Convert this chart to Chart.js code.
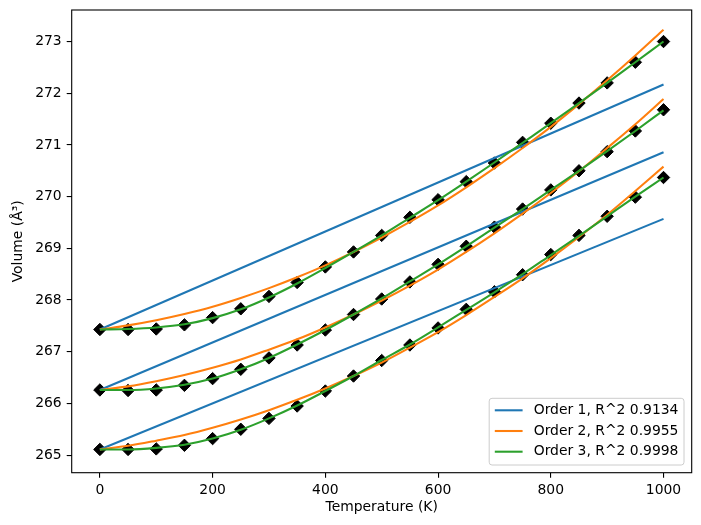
<!DOCTYPE html>
<html>
<head>
<meta charset="utf-8">
<script src="https://cdn.jsdelivr.net/npm/chart.js@4.4.1/dist/chart.umd.min.js"></script>
<style>
  html, body { margin: 0; padding: 0; background: #ffffff; }
  #c { display: block; }
</style>
</head>
<body>
<canvas id="c" width="701" height="525"></canvas>
<script>
// ---------------- data ----------------
const temps = [0, 50, 100, 150, 200, 250, 300, 350, 400, 450, 500, 550, 600, 650, 700, 750, 800, 850, 900, 950, 1000];

// measured volumes (black diamonds)
const volA = [267.43, 267.43, 267.44, 267.52, 267.66, 267.83, 268.07, 268.34, 268.64, 268.93, 269.25, 269.60, 269.94, 270.29, 270.65, 271.05, 271.42, 271.81, 272.20, 272.60, 273.00];
const volB = [266.26, 266.25, 266.26, 266.35, 266.48, 266.66, 266.88, 267.13, 267.42, 267.72, 268.02, 268.35, 268.69, 269.04, 269.41, 269.76, 270.13, 270.50, 270.87, 271.27, 271.68];
const volC = [265.11, 265.11, 265.12, 265.19, 265.32, 265.50, 265.71, 265.95, 266.24, 266.53, 266.83, 267.13, 267.46, 267.82, 268.16, 268.49, 268.88, 269.25, 269.62, 269.99, 270.37];

// order 1 fits (straight lines, endpoints)
const order1T = [0, 1000];
const order1A = [267.43, 272.17];
const order1B = [266.26, 270.86];
const order1C = [265.11, 269.57];

// order 2 fits
const order2A = [267.43, 267.51, 267.61, 267.73, 267.87, 268.04, 268.23, 268.44, 268.67, 268.93, 269.21, 269.51, 269.83, 270.18, 270.55, 270.94, 271.35, 271.79, 272.25, 272.73, 273.23];
const order2B = [266.26, 266.33, 266.43, 266.55, 266.69, 266.85, 267.04, 267.24, 267.47, 267.72, 267.99, 268.28, 268.59, 268.93, 269.29, 269.67, 270.07, 270.49, 270.94, 271.40, 271.89];
const order2C = [265.11, 265.18, 265.28, 265.39, 265.53, 265.69, 265.87, 266.07, 266.29, 266.53, 266.79, 267.08, 267.38, 267.71, 268.06, 268.42, 268.81, 269.22, 269.65, 270.11, 270.58];

// order 3 fits
const order3A = [267.43, 267.44, 267.47, 267.53, 267.65, 267.82, 268.05, 268.32, 268.62, 268.93, 269.25, 269.59, 269.93, 270.29, 270.66, 271.04, 271.42, 271.81, 272.20, 272.60, 273.00];
const order3B = [266.26, 266.26, 266.29, 266.36, 266.48, 266.66, 266.88, 267.14, 267.42, 267.72, 268.03, 268.36, 268.69, 269.04, 269.40, 269.76, 270.13, 270.50, 270.88, 271.27, 271.67];
const order3C = [265.11, 265.11, 265.14, 265.20, 265.32, 265.49, 265.71, 265.96, 266.24, 266.53, 266.84, 267.14, 267.47, 267.81, 268.15, 268.50, 268.87, 269.24, 269.62, 270.00, 270.37];

const legendLabels = ["Order 1, R^2 0.9134", "Order 2, R^2 0.9955", "Order 3, R^2 0.9998"];
const xTicks = [0, 200, 400, 600, 800, 1000];
const yTicks = [265, 266, 267, 268, 269, 270, 271, 272, 273];
const xTitle = "Temperature (K)";
const yTitle = "Volume (Å³)";

// ---------------- styling ----------------
const BLUE = '#1f77b4', ORANGE = '#ff7f0e', GREEN = '#2ca02c';
const FONT = 'DejaVu Sans';
const FS = 13.9;
const LW = 2.08;

const pts = (xs, ys) => xs.map((x, i) => ({ x: x, y: ys[i] }));

function markers(ys) {
  return {
    data: pts(temps, ys), showLine: false, pointStyle: 'rectRot',
    pointRadius: 6.2, pointHoverRadius: 6.2, borderWidth: 1,
    backgroundColor: '#000', borderColor: '#000', order: 4
  };
}
function fitLine(xs, ys, color, ord) {
  return {
    data: pts(xs, ys), showLine: true, pointRadius: 0, pointHoverRadius: 0,
    borderColor: color, backgroundColor: color, borderWidth: LW, fill: false,
    cubicInterpolationMode: 'monotone', order: ord
  };
}

const datasets = [
  markers(volA), markers(volB), markers(volC),
  fitLine(order1T, order1A, BLUE, 3), fitLine(order1T, order1B, BLUE, 3), fitLine(order1T, order1C, BLUE, 3),
  fitLine(temps, order2A, ORANGE, 2), fitLine(temps, order2B, ORANGE, 2), fitLine(temps, order2C, ORANGE, 2),
  fitLine(temps, order3A, GREEN, 1), fitLine(temps, order3B, GREEN, 1), fitLine(temps, order3C, GREEN, 1)
];

const frameAndLegend = {
  id: 'frameAndLegend',
  afterDatasetsDraw(chart) {
    const ctx = chart.ctx, ca = chart.chartArea;
    ctx.save();
    // spines
    ctx.strokeStyle = '#000';
    ctx.lineWidth = 1.1;
    ctx.strokeRect(ca.left, ca.top, ca.right - ca.left, ca.bottom - ca.top);

    // legend
    ctx.font = FS + 'px "' + FONT + '"';
    let tw = 0;
    legendLabels.forEach(t => { tw = Math.max(tw, ctx.measureText(t).width); });
    const pad = 5.6, handle = 27.8, hpad = 11.1, rowH = 20.7;
    const w = pad + handle + hpad + tw + pad;
    const h = 66.7;
    const x0 = ca.right - 7.7 - w;
    const y0 = ca.bottom - 7.7 - h;
    const r = 2.8;
    ctx.beginPath();
    ctx.moveTo(x0 + r, y0);
    ctx.lineTo(x0 + w - r, y0);
    ctx.arcTo(x0 + w, y0, x0 + w, y0 + r, r);
    ctx.lineTo(x0 + w, y0 + h - r);
    ctx.arcTo(x0 + w, y0 + h, x0 + w - r, y0 + h, r);
    ctx.lineTo(x0 + r, y0 + h);
    ctx.arcTo(x0, y0 + h, x0, y0 + h - r, r);
    ctx.lineTo(x0, y0 + r);
    ctx.arcTo(x0, y0, x0 + r, y0, r);
    ctx.closePath();
    ctx.fillStyle = 'rgba(255,255,255,0.8)';
    ctx.fill();
    ctx.strokeStyle = '#cccccc';
    ctx.lineWidth = 1;
    ctx.stroke();

    const colors = [BLUE, ORANGE, GREEN];
    legendLabels.forEach((t, i) => {
      const cy = y0 + 12 + i * rowH;
      ctx.strokeStyle = colors[i];
      ctx.lineWidth = LW;
      ctx.beginPath();
      ctx.moveTo(x0 + pad, cy);
      ctx.lineTo(x0 + pad + handle, cy);
      ctx.stroke();
      ctx.fillStyle = '#000';
      ctx.textAlign = 'left';
      ctx.textBaseline = 'middle';
      ctx.fillText(t, x0 + pad + handle + hpad, cy);
    });
    ctx.restore();
  }
};

function zeroPad(s) { s.paddingTop = 0; s.paddingBottom = 0; s.paddingLeft = 0; s.paddingRight = 0; }

new Chart(document.getElementById('c'), {
  type: 'scatter',
  data: { datasets: datasets },
  options: {
    responsive: false,
    devicePixelRatio: 1,
    animation: false,
    layout: { padding: { left: 0, top: 10, right: 9.3, bottom: 0 } },
    plugins: { legend: { display: false }, tooltip: { enabled: false } },
    scales: {
      x: {
        type: 'linear', min: -50, max: 1050,
        afterBuildTicks: s => { s.ticks = xTicks.map(v => ({ value: v })); },
        afterFit: s => { s.height = 52.3; zeroPad(s); },
        grid: { drawOnChartArea: false, drawTicks: true, tickLength: 5, color: '#000', lineWidth: 1.1 },
        border: { display: false },
        ticks: { color: '#000', font: { family: FONT, size: FS }, padding: 4.5, maxRotation: 0, autoSkip: false, callback: v => String(v) },
        title: { display: true, text: xTitle, color: '#000', font: { family: FONT, size: FS }, padding: { top: 0, bottom: 9.5 } }
      },
      y: {
        type: 'linear', min: 264.66, max: 273.61,
        afterBuildTicks: s => { s.ticks = yTicks.map(v => ({ value: v })); },
        afterFit: s => { s.width = 71.7; zeroPad(s); },
        grid: { drawOnChartArea: false, drawTicks: true, tickLength: 5, color: '#000', lineWidth: 1.1 },
        border: { display: false },
        ticks: { color: '#000', font: { family: FONT, size: FS }, padding: 5, autoSkip: false, callback: v => String(v) },
        title: { display: true, text: yTitle, color: '#000', font: { family: FONT, size: FS }, padding: { top: 10, bottom: 0 } }
      }
    }
  },
  plugins: [frameAndLegend]
});
</script>
</body>
</html>
